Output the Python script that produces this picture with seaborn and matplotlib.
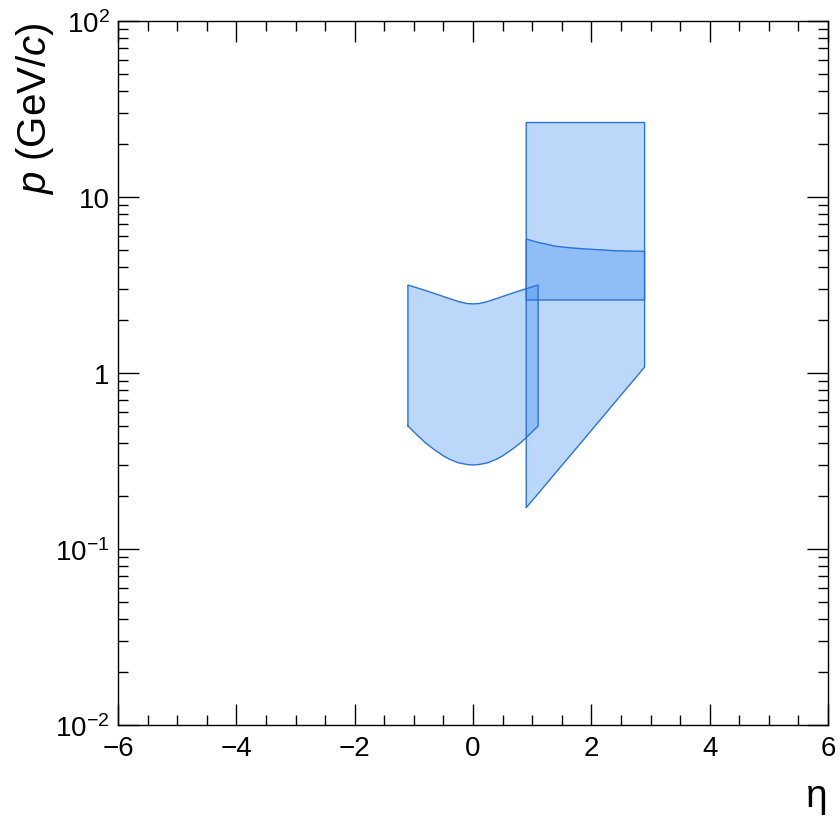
import numpy as np
import pandas as pd
import matplotlib
matplotlib.use("Agg")
import matplotlib.pyplot as plt
from matplotlib.ticker import FixedLocator, LogLocator, MultipleLocator, NullFormatter
import seaborn as sns

# ---------------- data ----------------
# central (barrel) region
eta_barrel = [-1.1, -0.95, -0.8, -0.65, -0.5, -0.4, -0.25, -0.1, 0.0,
              0.1, 0.25, 0.4, 0.5, 0.65, 0.8, 0.95, 1.1]
p_barrel_low = [0.50, 0.446, 0.40, 0.366, 0.338, 0.324, 0.309, 0.302, 0.30,
                0.302, 0.309, 0.324, 0.338, 0.366, 0.40, 0.446, 0.50]
p_barrel_high = [3.16, 3.05, 2.94, 2.83, 2.72, 2.65, 2.55, 2.48, 2.47,
                 2.48, 2.55, 2.65, 2.72, 2.83, 2.94, 3.05, 3.16]

# forward wide region
eta_fwd = [0.9, 1.1, 1.4, 1.65, 1.9, 2.4, 2.9]
p_fwd_low = [0.172, 0.206, 0.272, 0.342, 0.430, 0.682, 1.08]
p_fwd_high = [26.5, 26.5, 26.5, 26.5, 26.5, 26.5, 26.5]

# forward narrow band
p_band_low = [2.6, 2.6, 2.6, 2.6, 2.6, 2.6, 2.6]
p_band_high = [5.77, 5.52, 5.25, 5.14, 5.07, 4.95, 4.91]

x_ticks = [-6, -4, -2, 0, 2, 4, 6]
y_ticks = [1e-2, 1e-1, 1, 10, 1e2]
y_tick_labels = [r"$10^{-2}$", r"$10^{-1}$", "1", "10", r"$10^{2}$"]

# ---------------- style ----------------
sns.set_theme(style="ticks")
plt.rcParams["font.family"] = ["Liberation Sans", "DejaVu Sans"]
plt.rcParams["mathtext.fontset"] = "custom"
plt.rcParams["mathtext.rm"] = "Liberation Sans"
plt.rcParams["mathtext.it"] = "Liberation Sans:italic"
plt.rcParams["mathtext.bf"] = "Liberation Sans:bold"
for k in ["text.color", "axes.labelcolor", "xtick.color", "ytick.color", "axes.edgecolor"]:
    plt.rcParams[k] = "black"

face = (0.243, 0.565, 0.945, 0.35)
edge = "#2a72dc"

fig = plt.figure(figsize=(8.4, 8.28), dpi=100)
ax = fig.add_axes([118 / 840, 1 - 726 / 828, 710 / 840, 704 / 828])
ax.set_yscale("log")

regions = [
    (eta_barrel, p_barrel_low, p_barrel_high),
    (eta_fwd, p_fwd_low, p_fwd_high),
    (eta_fwd, p_band_low, p_band_high),
]
for eta, lo, hi in regions:
    ax.fill_between(eta, lo, hi, facecolor=face, edgecolor="none", linewidth=0)
    ox = list(eta) + list(eta[::-1]) + [eta[0]]
    oy = list(lo) + list(hi[::-1]) + [lo[0]]
    df = pd.DataFrame({"eta": ox, "p": oy})
    sns.lineplot(data=df, x="eta", y="p", sort=False, estimator=None,
                 color=edge, linewidth=1.0, ax=ax)

ax.set_xlim(-6, 6)
ax.set_ylim(1e-2, 1e2)

ax.xaxis.set_major_locator(FixedLocator(x_ticks))
ax.xaxis.set_minor_locator(MultipleLocator(0.5))
ax.set_xticklabels([("\u2212" + str(abs(v))) if v < 0 else str(v) for v in x_ticks])

ax.yaxis.set_major_locator(FixedLocator(y_ticks))
ax.yaxis.set_minor_locator(LogLocator(base=10, subs=np.arange(2, 10)))
ax.yaxis.set_minor_formatter(NullFormatter())
ax.set_yticklabels(y_tick_labels)

ax.tick_params(which="both", direction="in", top=True, right=True,
               color="black", width=1.0, labelsize=20, labelcolor="black")
ax.tick_params(which="major", length=15)
ax.tick_params(which="minor", length=7.5)
ax.tick_params(axis="x", which="major", pad=7)
ax.tick_params(axis="y", which="major", pad=6)

for s in ax.spines.values():
    s.set_color("black")
    s.set_linewidth(1.0)

ax.set_xlabel("\u03b7", fontsize=28, loc="right")
ax.xaxis.set_label_coords(1.0, -0.075)
ax.set_ylabel(r"$p$ (GeV/$c$)", fontsize=29, loc="top")
ax.yaxis.set_label_coords(-0.088, 1.0)

ax.grid(False)
fig.savefig("out.png", dpi=100, facecolor="white")
